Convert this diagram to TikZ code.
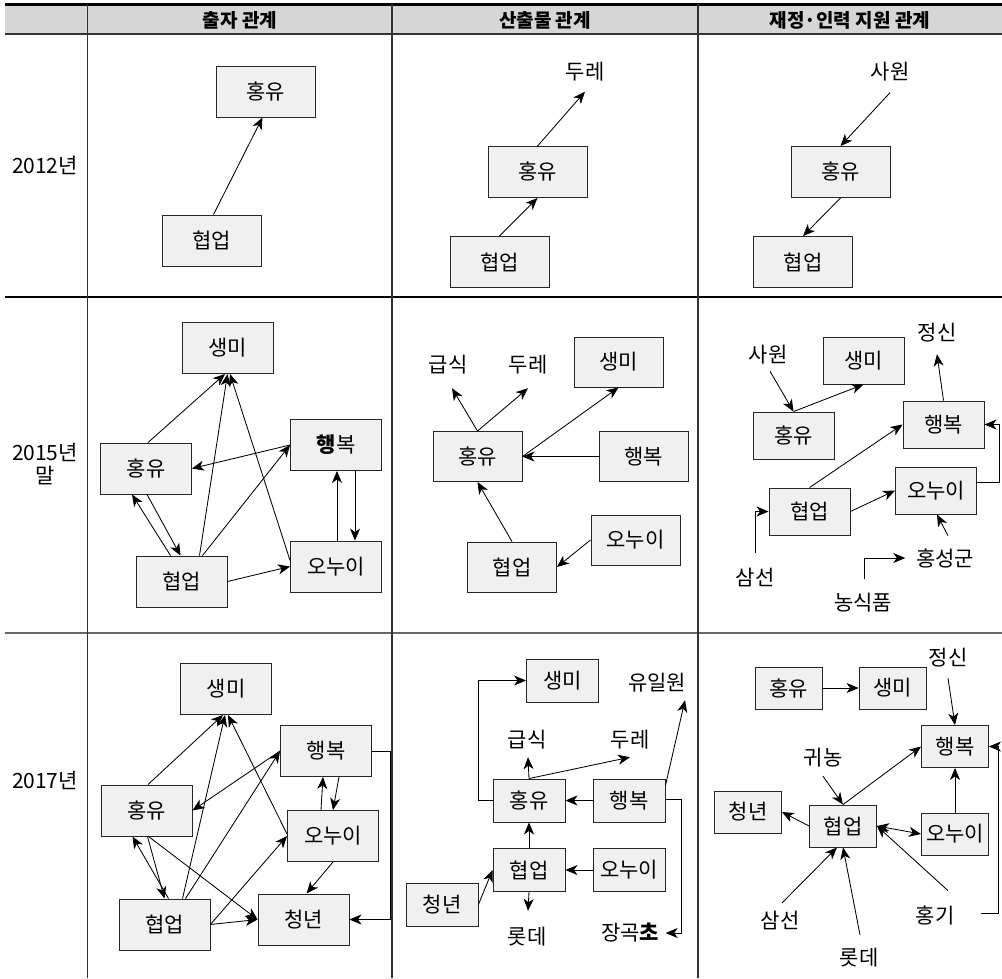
\documentclass[tikz,border=0pt]{standalone}
\usepackage{fontspec}
\setmainfont{Noto Sans CJK KR}
\usetikzlibrary{arrows.meta,calc}
\definecolor{boxfill}{HTML}{F0F0F0}
\definecolor{headfill}{HTML}{D6D6D6}
\definecolor{rule}{HTML}{333333}
\tikzset{
  box/.style={draw=black!85, fill=boxfill, line width=0.9pt, inner sep=0pt, font=\fontsize{21}{24}\selectfont},
  bA/.style={box, minimum width=99pt, minimum height=51pt},
  bB/.style={box, minimum width=91pt, minimum height=51pt},
  bC/.style={box, minimum width=89pt, minimum height=50pt},
  bD/.style={box, minimum width=81pt, minimum height=47pt},
  bE/.style={box, minimum width=72pt, minimum height=43pt},
  bF/.style={box, minimum width=67pt, minimum height=42pt},
  lbl/.style={inner sep=0pt, font=\fontsize{21}{24}\selectfont},
  hdr/.style={inner sep=0pt, font=\fontsize{19}{22}\selectfont\bfseries},
  arr/.style={line width=0.85pt, -{Stealth[length=12pt,width=10pt,inset=3.5pt]}},
  darr/.style={line width=0.85pt, {Stealth[length=12pt,width=10pt,inset=3.5pt]}-{Stealth[length=12pt,width=10pt,inset=3.5pt]}},
  tline/.style={draw=rule, line width=1.3pt}
}
\begin{document}
\begin{tikzpicture}[x=1pt,y=-1pt]
\useasboundingbox (0,0) rectangle (1002,978);
% table
\fill[headfill] (5,4) rectangle (1002,34);
\draw[black, line width=3pt] (5,4) -- (1002,4);
\draw[tline] (5,34) -- (1002,34);
\draw[black, line width=1.2pt] (5,297) -- (1002,297);
\draw[draw=black!60, line width=1.6pt] (5,633) -- (1002,633);
\draw[tline] (87.5,4) -- (87.5,978);
\draw[tline] (392,4) -- (392,978);
\draw[tline] (698,4) -- (698,978);
\node[hdr] (h1) at (240,20) {출자 관계};
\node[hdr] (h2) at (545,20) {산출물 관계};
\node[hdr] (h3) at (850,20) {재정·인력 지원 관계};
\node[lbl] (y1) at (45,165) {2012년};
\node[lbl] (y2a) at (45,452) {2015년};
\node[lbl] (y2b) at (45,476) {말};
\node[lbl] (y3) at (45,780) {2017년};

% ===== Row 1 =====
\node[bA] (hy1a) at (265.5,91.5) {홍유};
\node[bA] (hb1a) at (211.5,240.5) {협업};
\draw[arr] ([xshift=2pt]hb1a.north) -- ([xshift=-3pt]hy1a.south);

\node[lbl] (du1b) at (585,72) {두레};
\node[bA] (hy1b) at (537.5,172) {홍유};
\node[bA] (hb1b) at (499.5,262) {협업};
\draw[arr] (hb1b.north) -- (hy1b.south);
\draw[arr] (hy1b.north) -- ([yshift=-10pt]du1b.south);

\node[lbl] (sw1c) at (890,72) {사원};
\node[bA] (hy1c) at (840.5,172) {홍유};
\node[bA] (hb1c) at (803,262) {협업};
\draw[arr] ([yshift=-11pt]sw1c.south) -- (hy1c.north);
\draw[arr] (hy1c.south) -- (hb1c.north);

% ===== Row 2 col 1 =====
\node[bB] (sm2a) at (227.5,348) {생미};
\node[bB] (hy2a) at (146,468.5) {홍유};
\node[bB] (hp2a) at (336,445) {{\bfseries 행}복};
\node[bB] (on2a) at (336,566.5) {오누이};
\node[bB] (hb2a) at (181.5,581.5) {협업};
\draw[arr] ([xshift=2pt]hy2a.north) -- ([xshift=-2.5pt]sm2a.south);
\draw[arr] ([xshift=18pt]hb2a.north) -- (sm2a.south);
\draw[arr] ([yshift=6pt]on2a.west) -- ([xshift=2.5pt]sm2a.south);
\draw[arr] (hp2a.west) -- (hy2a.east);
\draw[arr] ([xshift=21pt]hb2a.north) -- (hp2a.west);
\draw[arr] ([xshift=-11pt]hb2a.north) -- ([xshift=-14pt]hy2a.south);
\draw[arr] ([xshift=1pt]hy2a.south) -- ([xshift=-1pt]hb2a.north);
\draw[arr] ([xshift=1pt]on2a.north) -- ([xshift=1pt]hp2a.south);
\draw[arr] ([xshift=19pt]hp2a.south) -- ([xshift=19pt]on2a.north);
\draw[arr] (hb2a.east) -- (on2a.west);

% ===== Row 2 col 2 =====
\node[lbl] (gs2b) at (448,365) {급식};
\node[lbl] (du2b) at (528,365) {두레};
\node[bC] (sm2b) at (618.5,362) {생미};
\node[bC] (hy2b) at (477.5,456.5) {홍유};
\node[bC] (hp2b) at (643.5,456.5) {행복};
\node[bC] (on2b) at (635.5,540) {오누이};
\node[bC] (hb2b) at (512,567) {협업};
\draw[arr] (hy2b.north) -- ([shift={(4pt,-13.5pt)}]gs2b.south);
\draw[arr] (hy2b.north) -- ([yshift=-13.5pt]du2b.south);
\draw[arr] (hy2b.east) -- (sm2b.south);
\draw[arr] (hp2b.west) -- (hy2b.east);
\draw[arr] (hb2b.north) -- (hy2b.south);
\draw[arr] (on2b.west) -- (hb2b.east);

% ===== Row 2 col 3 =====
\node[lbl] (js2c) at (937,333) {정신};
\node[lbl] (sw2c) at (768,355) {사원};
\node[bD] (sm2c) at (863.5,360.5) {생미};
\node[bD] (hy2c) at (793.5,435.5) {홍유};
\node[bD] (hp2c) at (943.5,424.5) {행복};
\node[bD] (on2c) at (936,490.5) {오누이};
\node[bD] (hb2c) at (809.5,511.5) {협업};
\node[lbl] (ss2c) at (755,577) {삼선};
\node[lbl] (hs2c) at (945,558) {홍성군};
\node[lbl] (ns2c) at (863,603) {농식품};
\draw[arr] ([shift={(2pt,-6.5pt)}]sw2c.south) -- (hy2c.north);
\draw[arr] (hy2c.north) -- (sm2c.south);
\draw[arr] (hp2c.north) -- ([yshift=-11.5pt]js2c.south);
\draw[arr] (hb2c.north) -- (hp2c.west);
\draw[arr] (hb2c.east) -- (on2c.west);
\draw[arr] ([yshift=8pt]on2c.east) -- ++(22,0) |- (hp2c.east);
\draw[arr] ([yshift=14.5pt]ss2c.north) |- (hb2c.west);
\draw[arr] ([shift={(3pt,12.5pt)}]hs2c.north) -- ([xshift=1pt]on2c.south);
\draw[arr] ([shift={(1pt,14.5pt)}]ns2c.north) |- ([xshift=-10.5pt]hs2c.west);

% ===== Row 3 col 1 =====
\node[bB] (sm3a) at (226,689) {생미};
\node[bB] (hp3a) at (326,751) {행복};
\node[bB] (hy3a) at (146.5,810.5) {홍유};
\node[bB] (on3a) at (333,836) {오누이};
\node[bB] (hb3a) at (164.5,924.5) {협업};
\node[bB] (cn3a) at (303.5,919.5) {청년};
\draw[arr] ([xshift=1.5pt]hy3a.north) -- ([xshift=-3pt]sm3a.south);
\draw[arr] ([xshift=18pt]hb3a.north) -- ([xshift=-1pt]sm3a.south);
\draw[arr] ([yshift=2pt]on3a.west) -- ([xshift=2pt]sm3a.south);
\draw[arr] (hp3a.west) -- (hy3a.east);
\draw[arr] ([xshift=21pt]hb3a.north) -- (hp3a.west);
\draw[arr] ([xshift=4pt]hb3a.north) -- ([xshift=-14pt]hy3a.south);
\draw[arr] ([xshift=1pt]hy3a.south) -- (hb3a.north);
\draw[arr] ([xshift=2pt]hy3a.south) -- (cn3a.west);
\draw[arr] (hb3a.east) -- (cn3a.west);
\draw[arr] (hb3a.east) -- (on3a.west);
\draw[arr] ([xshift=-12pt]on3a.north) -- ([xshift=-3pt]hp3a.south);
\draw[arr] ([xshift=13pt]hp3a.south) -- (on3a.north);
\draw[arr] (on3a.south) -- ([xshift=3pt]cn3a.north);
\draw[arr] (hp3a.east) -- ++(18,0) |- (cn3a.east);

% ===== Row 3 col 2 =====
\node[bE] (sm3b) at (562.5,680.5) {생미};
\node[lbl] (yu3b) at (657,683) {유일원};
\node[lbl] (gs3b) at (527,740) {급식};
\node[lbl] (du3b) at (630,740) {두레};
\node[bE] (hy3b) at (529,800.5) {홍유};
\node[bE] (hp3b) at (629,800.5) {행복};
\node[bE] (hb3b) at (529,870) {협업};
\node[bE] (on3b) at (629,870) {오누이};
\node[bE] (cn3b) at (442,904.5) {청년};
\node[lbl] (lt3b) at (527,937) {롯데};
\node[lbl] (jg3b) at (630,933) {장곡{\bfseries 초}};
\draw[arr] (hy3b.west) -- ++(-14,0) |- (sm3b.west);
\draw[arr] (hy3b.north) -- ([shift={(1pt,-7.5pt)}]gs3b.south);
\draw[arr] (hy3b.north) -- ([yshift=-7.5pt]du3b.south);
\draw[arr] (hp3b.west) -- (hy3b.east);
\draw[arr] ([yshift=15pt]hp3b.east) -- ([shift={(28pt,-7.5pt)}]yu3b.south);
\draw[arr] ([yshift=1pt]hp3b.east) -- ++(16,0) |- ([xshift=6.5pt]jg3b.east);
\draw[arr] (hb3b.north) -- (hy3b.south);
\draw[arr] (on3b.west) -- (hb3b.east);
\draw[arr] (cn3b.east) -- (hb3b.west);
\draw[arr] (hb3b.south) -- ([shift={(1pt,16.5pt)}]lt3b.north);

% ===== Row 3 col 3 =====
\node[lbl] (js3c) at (948,658) {정신};
\node[bF] (hy3c) at (788.5,688) {홍유};
\node[bF] (sm3c) at (892.5,688) {생미};
\node[bF] (hp3c) at (955,746.5) {행복};
\node[lbl] (gn3c) at (823,758) {귀농};
\node[bF] (cn3c) at (748,812) {청년};
\node[bF] (hb3c) at (843,826) {협업};
\node[bF] (on3c) at (955,834) {오누이};
\node[lbl] (ss3c) at (780,920) {삼선};
\node[lbl] (hk3c) at (935,915) {홍기};
\node[lbl] (lt3c) at (859,958) {롯데};
\draw[arr] (hy3c.east) -- (sm3c.west);
\draw[arr] ([yshift=-10.5pt]js3c.south) -- (hp3c.north);
\draw[arr] (hb3c.north) -- (hp3c.west);
\draw[arr] ([yshift=-8.5pt]gn3c.south) -- (hb3c.north);
\draw[arr] (hb3c.west) -- (cn3c.east);
\draw[darr] (hb3c.east) -- (on3c.west);
\draw[arr] (on3c.north) -- (hp3c.south);
\draw[arr] ([shift={(2pt,7.5pt)}]ss3c.north) -- ([xshift=-6pt]hb3c.south);
\draw[arr] ([shift={(1pt,13.5pt)}]lt3c.north) -- (hb3c.south);
\draw[arr] ([shift={(13pt,14.5pt)}]hk3c.north) -- (hb3c.east);
\draw[arr] ([shift={(26pt,2pt)}]hk3c.east) -- ++(18,0) |- (hp3c.east);
\end{tikzpicture}
\end{document}
